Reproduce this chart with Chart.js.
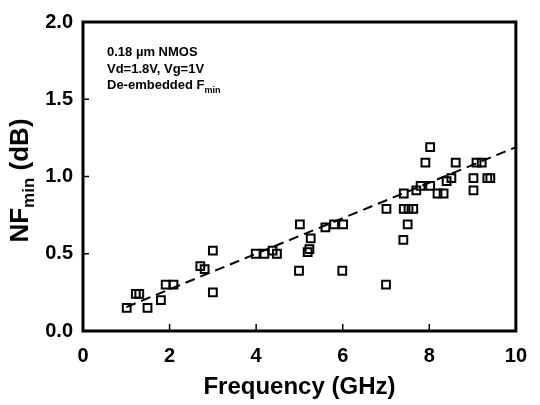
<!DOCTYPE html>
<html>
<head>
<meta charset="utf-8">
<script src="https://cdn.jsdelivr.net/npm/chart.js@4.4.1/dist/chart.umd.min.js"></script>
<style>
  body { margin: 0; background: #fff; }
  canvas { display: block; }
</style>
</head>
<body>
<canvas id="nfChart" width="540" height="405"></canvas>
<script>
/* ========================================
   DADOS - NFmin x FREQUÊNCIA
   ======================================== */

const freqGHz = [
  1.01, 1.22, 1.30, 1.49, 1.80, 1.91, 2.09, 2.71, 2.81, 3.00, 3.00,
  3.99, 4.19, 4.38, 4.48, 5.01, 4.99, 5.26, 5.23, 5.19, 5.60, 5.80,
  6.01, 5.99, 7.00, 7.01, 7.41, 7.41, 7.52, 7.63, 7.50, 7.40, 7.70,
  7.80, 8.02, 7.91, 8.02, 8.19, 8.33, 8.40, 8.51, 8.61, 9.02, 9.02,
  9.09, 9.21, 9.34, 9.41
];
const nfMinDb = [
  0.15, 0.24, 0.24, 0.15, 0.20, 0.30, 0.30, 0.42, 0.40, 0.52, 0.25,
  0.50, 0.50, 0.52, 0.50, 0.69, 0.39, 0.60, 0.53, 0.51, 0.67, 0.69,
  0.69, 0.39, 0.30, 0.79, 0.89, 0.79, 0.79, 0.79, 0.69, 0.59, 0.91,
  0.94, 0.94, 1.09, 1.19, 0.89, 0.89, 0.97, 0.99, 1.09, 0.99, 0.91,
  1.09, 1.09, 0.99, 0.99
];

// reta de ajuste (tracejada)
const fitFreq = [1.0, 10.0];
const fitNf = [0.155, 1.19];

const xTicks = [0, 2, 4, 6, 8, 10];
const yTicks = [0, 0.5, 1.0, 1.5, 2.0];

const notes = ['0.18 \u00b5m NMOS', 'Vd=1.8V, Vg=1V', 'De-embedded F'];

const FONT = 'Arial, "Liberation Sans", sans-serif';

/* ========================================
   PLUGIN - MOLDURA, TICKS E TEXTOS
   ======================================== */

const framePlugin = {
  id: 'frame',
  afterDraw(chart) {
    const ctx = chart.ctx;
    const area = chart.chartArea;
    const xs = chart.scales.x;
    const ys = chart.scales.y;

    ctx.save();
    ctx.strokeStyle = '#000';
    ctx.lineWidth = 3;
    ctx.strokeRect(area.left, area.top, area.right - area.left, area.bottom - area.top);

    // ticks para dentro
    ctx.lineWidth = 1.5;
    ctx.beginPath();
    xTicks.forEach(v => {
      const px = xs.getPixelForValue(v);
      ctx.moveTo(px, area.bottom);
      ctx.lineTo(px, area.bottom - 7);
    });
    yTicks.forEach(v => {
      const py = ys.getPixelForValue(v);
      ctx.moveTo(area.left, py);
      ctx.lineTo(area.left + 6, py);
    });
    ctx.stroke();

    // anotação
    ctx.fillStyle = '#000';
    ctx.textBaseline = 'alphabetic';
    ctx.textAlign = 'left';
    ctx.font = 'bold 13px ' + FONT;
    const tx = area.left + 24;
    const ty = area.top + 34;
    notes.forEach((t, i) => {
      ctx.fillText(t, tx, ty + i * 16.5);
    });
    const w = ctx.measureText(notes[2]).width;
    ctx.font = 'bold 9px ' + FONT;
    ctx.fillText('min', tx + w, ty + 2 * 16.5 + 4);

    // título do eixo Y com subscrito
    ctx.translate(21, (area.top + area.bottom) / 2 + 4);
    ctx.rotate(-Math.PI / 2);
    ctx.textBaseline = 'middle';
    ctx.font = 'bold 26px ' + FONT;
    const w1 = ctx.measureText('NF').width;
    ctx.font = 'bold 17px ' + FONT;
    const w2 = ctx.measureText('min').width;
    ctx.font = 'bold 26px ' + FONT;
    const w3 = ctx.measureText(' (dB)').width;
    const x0 = -(w1 + w2 + w3) / 2;
    ctx.fillText('NF', x0, 0);
    ctx.font = 'bold 17px ' + FONT;
    ctx.fillText('min', x0 + w1, 8);
    ctx.font = 'bold 26px ' + FONT;
    ctx.fillText(' (dB)', x0 + w1 + w2, 0);
    ctx.restore();
  }
};

/* ========================================
   GRÁFICO
   ======================================== */

function buildChart() {
  const canvas = document.getElementById('nfChart');
  const points = freqGHz.map((f, i) => ({ x: f, y: nfMinDb[i] }));
  const fit = fitFreq.map((f, i) => ({ x: f, y: fitNf[i] }));

  new Chart(canvas, {
    type: 'scatter',
    data: {
      datasets: [
        {
          data: points,
          pointStyle: 'rect',
          pointRadius: 5.5,
          borderWidth: 2,
          borderColor: '#000',
          backgroundColor: 'rgba(255,255,255,0)'
        },
        {
          type: 'line',
          data: fit,
          borderColor: '#000',
          borderWidth: 2,
          borderDash: [10, 6],
          pointRadius: 0,
          fill: false
        }
      ]
    },
    options: {
      responsive: false,
      animation: false,
      layout: {
        padding: { top: 15, right: 13, left: 0, bottom: 0 }
      },
      plugins: {
        legend: { display: false },
        tooltip: { enabled: false }
      },
      scales: {
        x: {
          type: 'linear',
          min: 0,
          max: 10,
          afterBuildTicks: axis => { axis.ticks = xTicks.map(v => ({ value: v })); },
          afterFit: axis => { axis.height = 74; },
          grid: { display: false, drawTicks: false },
          border: { display: false },
          ticks: {
            padding: 13,
            color: '#000',
            maxRotation: 0,
            font: { family: FONT, size: 20, weight: 'bold' },
            callback: v => String(v)
          },
          title: {
            display: true,
            text: 'Frequency (GHz)',
            color: '#000',
            font: { family: FONT, size: 24, weight: 'bold' },
            padding: { top: 0, bottom: 3 }
          }
        },
        y: {
          type: 'linear',
          min: 0,
          max: 2,
          afterBuildTicks: axis => { axis.ticks = yTicks.map(v => ({ value: v })); },
          afterFit: axis => { axis.width = 83; },
          grid: { display: false, drawTicks: false },
          border: { display: false },
          ticks: {
            padding: 10,
            color: '#000',
            font: { family: FONT, size: 20, weight: 'bold' },
            callback: v => v.toFixed(1)
          }
        }
      }
    },
    plugins: [framePlugin]
  });
}

document.addEventListener('DOMContentLoaded', buildChart);
</script>
</body>
</html>
